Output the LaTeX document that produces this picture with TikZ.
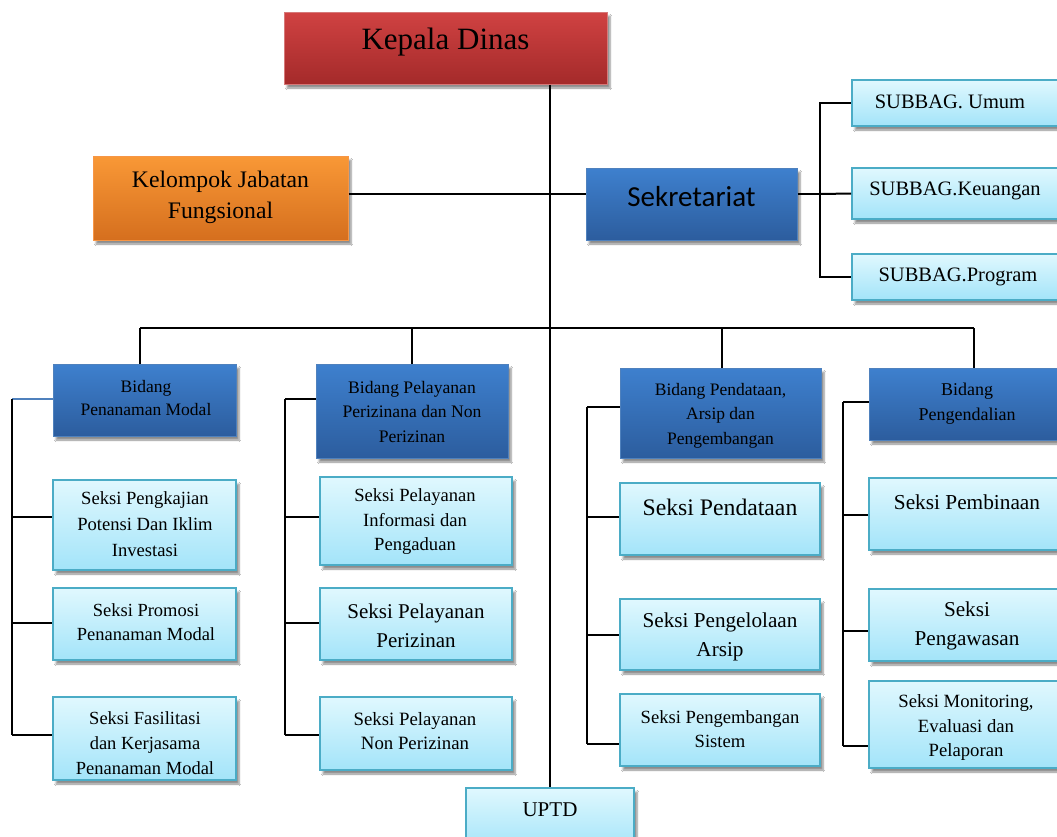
\documentclass[tikz,border=0pt]{standalone}
\usepackage{fontspec}
\setmainfont{Liberation Serif}
\newfontfamily\carlito{Carlito}
\usetikzlibrary{shadows,shadows.blur}
\definecolor{redT}{RGB}{208,66,66}
\definecolor{redB}{RGB}{164,42,42}
\definecolor{redD}{RGB}{214,120,120}
\definecolor{orT}{RGB}{249,152,54}
\definecolor{orB}{RGB}{213,111,30}
\definecolor{orD}{RGB}{247,150,70}
\definecolor{blT}{RGB}{62,128,206}
\definecolor{blB}{RGB}{44,93,158}
\definecolor{blD}{RGB}{79,129,189}
\definecolor{ltT}{RGB}{224,248,254}
\definecolor{ltB}{RGB}{163,228,249}
\definecolor{ltD}{RGB}{75,172,198}
\newcommand\fsz[2]{\fontsize{#1}{#2}\selectfont}
\tikzset{
  shad/.style={blur shadow={shadow xshift=3pt,shadow yshift=-4pt,shadow blur steps=6,shadow opacity=45}},
  redbox/.style={rectangle,shad,top color=redT,bottom color=redB,draw=redD,line width=1pt},
  orbox/.style={rectangle,shad,top color=orT,bottom color=orB,draw=orD,line width=1pt},
  blbox/.style={rectangle,shad,top color=blT,bottom color=blB,draw=blD,line width=1pt},
  ltbox/.style={rectangle,shad,top color=ltT,bottom color=ltB,draw=ltD,line width=1.6pt},
  txt/.style={align=center,inner sep=0pt,text=black},
  conn/.style={line width=2pt,black},
}
\begin{document}
\begin{tikzpicture}[x=1pt,y=-1pt]
\clip (0,0) rectangle (1057,836);
\fill[white] (0,0) rectangle (1057,836);
% coordinates
\coordinate (bus) at (549,328);
\coordinate (hy) at (549,194);
\coordinate (sbx) at (820,194);
\coordinate (d1) at (140,328);
\coordinate (d2) at (412,328);
\coordinate (d3) at (722,328);
\coordinate (d4) at (974,328);
\coordinate (c1) at (12,399);
\coordinate (c2) at (285,399);
\coordinate (c3) at (587,407);
\coordinate (c4) at (843,402);

% ---- connectors (drawn first, under boxes)
\node[redbox,minimum width=323,minimum height=72] (kd) at (445.5,48) {};
\node[ltbox,minimum width=168,minimum height=62] (uptd) at (550,819) {};
\node[orbox,minimum width=255,minimum height=84] (kjf) at (220.5,198) {};
\node[blbox,minimum width=211,minimum height=72] (sek) at (691.5,204) {};
\node[ltbox,minimum width=208,minimum height=46] (sb1) at (956,103) {};
\node[ltbox,minimum width=208,minimum height=51] (sb2) at (956,193.5) {};
\node[ltbox,minimum width=208,minimum height=46] (sb3) at (956,277) {};

\node[blbox,minimum width=183,minimum height=72] (b1) at (144.5,400) {};
\node[blbox,minimum width=192,minimum height=94] (b2) at (412,411) {};
\node[blbox,minimum width=201,minimum height=90] (b3) at (720.5,413) {};
\node[blbox,minimum width=196,minimum height=72] (b4) at (967,404) {};

\node[ltbox,minimum width=183,minimum height=90] (s11) at (144.5,525) {};
\node[ltbox,minimum width=183,minimum height=72] (s12) at (144.5,624) {};
\node[ltbox,minimum width=183,minimum height=83] (s13) at (144.5,738.5) {};
\node[ltbox,minimum width=192,minimum height=88] (s21) at (416,521) {};
\node[ltbox,minimum width=192,minimum height=72] (s22) at (416,624) {};
\node[ltbox,minimum width=192,minimum height=73] (s23) at (416,733.5) {};
\node[ltbox,minimum width=200,minimum height=72] (s31) at (720,519) {};
\node[ltbox,minimum width=200,minimum height=71] (s32) at (720,634.5) {};
\node[ltbox,minimum width=200,minimum height=72] (s33) at (720,730) {};
\node[ltbox,minimum width=196,minimum height=72] (s41) at (967,514) {};
\node[ltbox,minimum width=196,minimum height=72] (s42) at (967,625) {};
\node[ltbox,minimum width=196,minimum height=87] (s43) at (967,724.5) {};

% branch points
\coordinate (k11) at ([yshift=8pt]s11.west);
\coordinate (k12) at ([yshift=1pt]s12.west);
\coordinate (k13) at ([yshift=3.5pt]s13.west);
\coordinate (k21) at ([yshift=4pt]s21.west);
\coordinate (k22) at ([yshift=1pt]s22.west);
\coordinate (k23) at ([yshift=-1.5pt]s23.west);
\coordinate (k31) at ([yshift=2pt]s31.west);
\coordinate (k32) at (s32.west);
\coordinate (k33) at ([yshift=-14pt]s33.west);
\coordinate (k41) at ([yshift=-1pt]s41.west);
\coordinate (k42) at ([yshift=-6pt]s42.west);
\coordinate (k43) at ([yshift=-21pt]s43.west);

\begin{scope}[on background layer/.style={}]
\end{scope}

% connectors
\draw[conn] (kd.south -| uptd.north) -- (uptd.north);
\draw[conn] (kjf.east |- hy) -- (sek.west |- hy);
\draw[conn] (sek.east |- sbx) -- (sbx);
\draw[conn] (sb1.west) -- (sb1.west -| sbx) -- (sb3.west -| sbx) -- (sb3.west);
\draw[conn] (sbx) -- (sb2.west);
\draw[conn] (d1) -- (d4);
\draw[conn] (d1) -- (d1 |- b1.north);
\draw[conn] (d2) -- (d2 |- b2.north);
\draw[conn] (d3) -- (d3 |- b3.north);
\draw[conn] (d4) -- (d4 |- b4.north);
% column 1
\draw[line width=2pt,blD] (c1) -- (c1 -| b1.west);
\draw[conn] (c1) -- (c1 |- k13);
\draw[conn] (c1 |- k11) -- (k11);
\draw[conn] (c1 |- k12) -- (k12);
\draw[conn] (c1 |- k13) -- (k13);
% column 2
\draw[conn] (c2) -- (c2 -| b2.west);
\draw[conn] (c2) -- (c2 |- k23);
\draw[conn] (c2 |- k21) -- (k21);
\draw[conn] (c2 |- k22) -- (k22);
\draw[conn] (c2 |- k23) -- (k23);
% column 3
\draw[conn] (c3) -- (c3 -| b3.west);
\draw[conn] (c3) -- (c3 |- k33);
\draw[conn] (c3 |- k31) -- (k31);
\draw[conn] (c3 |- k32) -- (k32);
\draw[conn] (c3 |- k33) -- (k33);
% column 4
\draw[conn] (c4) -- (c4 -| b4.west);
\draw[conn] (c4) -- (c4 |- k43);
\draw[conn] (c4 |- k41) -- (k41);
\draw[conn] (c4 |- k42) -- (k42);
\draw[conn] (c4 |- k43) -- (k43);

% redraw boxes on top of lines where they overlap (UPTD / Kepala handled by anchors)

% ---- texts
\node[txt,font=\fsz{31}{36}] (kd-t) at (445.5,42) {Kepala Dinas};
\node[txt,font=\fsz{23.7}{31}] (kjf-t) at (220.5,197.5) {Kelompok Jabatan\\Fungsional};
\node[txt,font=\carlito\fsz{29}{34}] (sek-t) at (691.5,197) {Sekretariat};
\node[txt,font=\fsz{20.5}{24}] (sb1-t) at (950,102) {SUBBAG. Umum};
\node[txt,font=\fsz{20.5}{24}] (sb2-t) at (955,191) {SUBBAG.Keuangan};
\node[txt,font=\fsz{20.5}{24}] (sb3-t) at (958,277) {SUBBAG.Program};

\node[txt,font=\fsz{17.5}{23}] (b1-t) at (146,398.5) {Bidang\\Penanaman Modal};
\node[txt,font=\fsz{17.6}{24.5}] (b2-t) at (412,411.5) {Bidang Pelayanan\\Perizinana dan Non\\Perizinan};
\node[txt,font=\fsz{17.5}{24.5}] (b3-t) at (720.5,415.5) {Bidang Pendataan,\\Arsip dan\\Pengembangan};
\node[txt,font=\fsz{18}{25}] (b4-t) at (967,403.5) {Bidang\\Pengendalian};

\node[txt,font=\fsz{18.6}{26}] (s11-t) at (145,524) {Seksi Pengkajian\\Potensi Dan Iklim\\Investasi};
\node[txt,font=\fsz{18.5}{24}] (s12-t) at (146,622) {Seksi Promosi\\Penanaman Modal};
\begin{scope}
\clip (s13.north west) rectangle ([yshift=5pt]s13.south east);
\node[txt,font=\fsz{18.5}{25}] (s13-t) at (145,743) {Seksi Fasilitasi\\dan Kerjasama\\Penanaman Modal};
\end{scope}
\begin{scope}
\clip (s21.north west) rectangle ([yshift=5pt]s21.south east);
\node[txt,font=\fsz{18.6}{24.5}] (s21-t) at (415,522) {Seksi Pelayanan\\Informasi dan\\Pengaduan};
\end{scope}
\node[txt,font=\fsz{21}{29}] (s22-t) at (416,625.5) {Seksi Pelayanan\\Perizinan};
\node[txt,font=\fsz{18.8}{24}] (s23-t) at (415,731) {Seksi Pelayanan\\Non Perizinan};
\node[txt,font=\fsz{23.7}{28}] (s31-t) at (720,507) {Seksi Pendataan};
\node[txt,font=\fsz{21.2}{29}] (s32-t) at (720,636.5) {Seksi Pengelolaan\\Arsip};
\node[txt,font=\fsz{18.6}{24}] (s33-t) at (720,729) {Seksi Pengembangan\\Sistem};
\node[txt,font=\fsz{21.3}{25}] (s41-t) at (967,502) {Seksi Pembinaan};
\node[txt,font=\fsz{21.2}{29}] (s42-t) at (967,625.5) {Seksi\\Pengawasan};
\begin{scope}
\clip (s43.north west) rectangle ([yshift=6pt]s43.south east);
\node[txt,font=\fsz{18.7}{24.5}] (s43-t) at (966,727.5) {Seksi Monitoring,\\Evaluasi dan\\Pelaporan};
\end{scope}
\node[txt,font=\fsz{21}{25}] (uptd-t) at (550,810) {UPTD};
\end{tikzpicture}
\end{document}
